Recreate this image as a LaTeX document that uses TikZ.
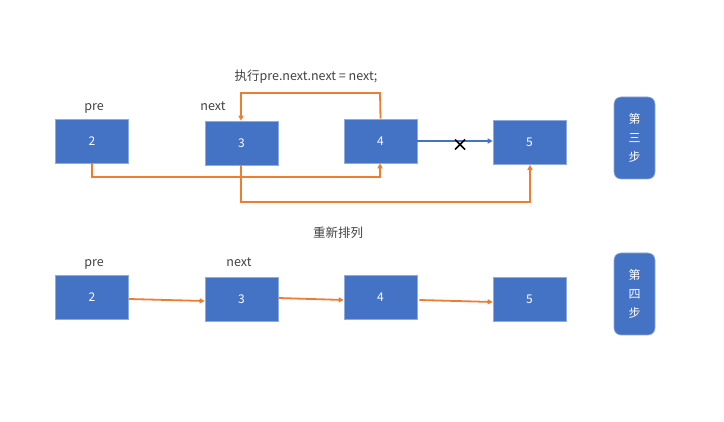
\documentclass[tikz,border=0pt]{standalone}
\usepackage{fontspec}
\setmainfont{Noto Sans CJK SC}
\usetikzlibrary{arrows.meta}
\definecolor{boxblue}{HTML}{4472C4}
\definecolor{boxedge}{HTML}{8FAADC}
\definecolor{lineorange}{HTML}{ED7D31}
\definecolor{labelgray}{HTML}{404040}
\begin{document}
\begin{tikzpicture}[x=1pt,y=-1pt,
  nodebox/.style={draw=boxedge,line width=0.6pt,fill=boxblue,text=white,minimum width=73pt,minimum height=44pt,inner sep=0pt,font=\fontsize{12}{14}\selectfont},
  stepbox/.style={draw=boxedge,line width=0.6pt,fill=boxblue,text=white,rounded corners=7pt,minimum width=41pt,minimum height=82pt,inner sep=0pt,align=center,font=\fontsize{12}{19}\selectfont},
  lbl/.style={text=labelgray,inner sep=0pt,anchor=base,font=\fontsize{12.5}{14}\selectfont},
  olink/.style={draw=lineorange,line width=1.8pt,-{Triangle[length=5pt,width=5pt]}},
  blink/.style={draw=boxblue,line width=1.8pt,-{Triangle[length=5pt,width=5pt]}}
]
\useasboundingbox (0,0) rectangle (724,422);
% top row
\node[nodebox] (a2) at (92,141) {2};
\node[nodebox] (a3) at (241.5,143) {3};
\node[nodebox] (a4) at (380.5,141) {4};
\node[nodebox] (a5) at (529.5,142.5) {5};
\node[stepbox] (s3) at (634.5,138) {第\\三\\步};
\node[lbl] (pa) at (94,111) {pre};
\node[lbl] (na) at (213,111) {next};
\node[lbl] (ta) at (306,81) {执行pre.next.next = next;};
\coordinate (c1) at (380,93);
\coordinate (c2) at (241,93);
\draw[olink] (a4.north) -- (c1) -- (c2) -- (a3.north -| c2);
\coordinate (c3) at (92,177);
\coordinate (c4) at (380,177);
\draw[olink] (a2.south) -- (c3) -- (c4) -- (a4.south -| c4);
\coordinate (c5) at (241,202);
\coordinate (c6) at (530,202);
\draw[olink] (a3.south -| c5) -- (c5) -- (c6) -- (a5.south -| c6);
\draw[blink] (a4.east) -- (a5.west |- a4.east);
\coordinate (x) at (460,144.5);
\draw[black,line width=1.6pt] ([shift={(-5,-5)}]x) -- ([shift={(5,5)}]x) ([shift={(-5,5)}]x) -- ([shift={(5,-5)}]x);
% bottom row
\node[lbl] (tb) at (338,238) {重新排列};
\node[nodebox] (b2) at (92,297) {2};
\node[nodebox] (b3) at (241.5,299) {3};
\node[nodebox] (b4) at (380.5,297) {4};
\node[nodebox] (b5) at (529.5,299) {5};
\node[stepbox] (s4) at (634.5,294) {第\\四\\步};
\node[lbl] (pb) at (94,267) {pre};
\node[lbl] (nb) at (239,267) {next};
\draw[olink] ([yshift=-2pt]b2.east) -- ([yshift=-2pt]b3.west);
\draw[olink] ([yshift=1pt]b3.east) -- ([yshift=-3pt]b4.west);
\draw[olink] ([xshift=2pt,yshift=-3pt]b4.east) -- ([yshift=-3pt]b5.west);
\end{tikzpicture}
\end{document}
